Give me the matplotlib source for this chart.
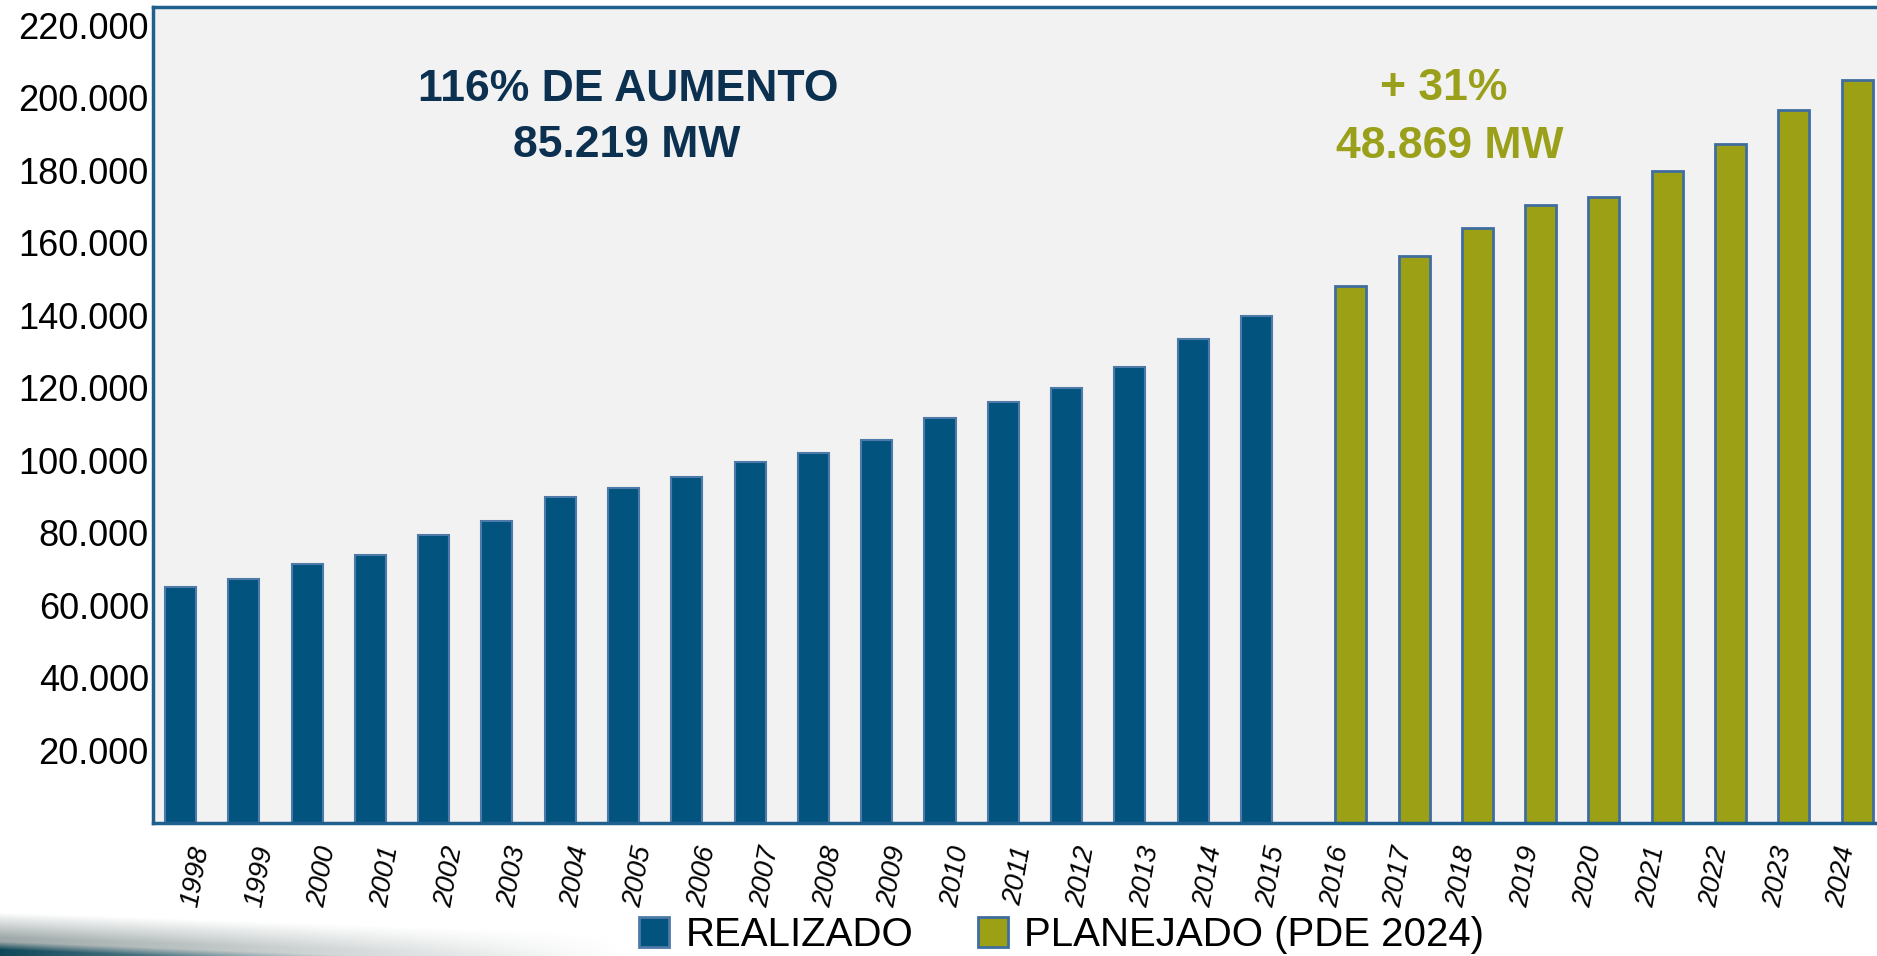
import numpy as np
import matplotlib.pyplot as plt
from matplotlib.patches import Patch

# %%
# data (MW)
years_real = [str(y) for y in range(1998, 2016)]
years_plan = [str(y) for y in range(2016, 2025)]
realizado = [65200, 67400, 71500, 74000, 79500, 83200, 89800, 92300, 95500,
             99500, 102000, 105600, 111600, 116200, 119900, 125700, 133400, 139900]
planejado = [148200, 156500, 164200, 170600, 172800, 179900, 187300, 196700, 205000]
yticks = [20000, 40000, 60000, 80000, 100000, 120000, 140000, 160000, 180000, 200000, 220000]
ytick_labels = ['20.000', '40.000', '60.000', '80.000', '100.000', '120.000',
                '140.000', '160.000', '180.000', '200.000', '220.000']
txt_real = ['116% DE AUMENTO', '85.219 MW']
txt_plan = ['+ 31%', '48.869 MW']
legend_labels = ['REALIZADO', 'PLANEJADO (PDE 2024)']

# %%
c_blue = '#02547f'
c_blue_edge = '#4d7aa8'
c_green = '#9ca014'
c_green_edge = '#3f6e9e'
c_spine = '#20608f'
c_navy = '#0c3150'
c_olive = '#9aa01a'

fig = plt.figure(figsize=(18.77, 9.56), dpi=100)
ax = fig.add_axes([153/1877, 1-823/956, (1877-153)/1877, (823-7)/956])
ax.set_facecolor('#f2f2f2')

years = years_real + years_plan
x_real = np.arange(len(years_real))
x_plan = np.arange(len(years_real), len(years))
bw = 0.49
ax.bar(x_real - bw/2, realizado, width=bw, color=c_blue,
       edgecolor=c_blue_edge, linewidth=1.5, zorder=2)
ax.bar(x_plan + bw/2, planejado, width=bw, color=c_green,
       edgecolor=c_green_edge, linewidth=2, zorder=2)

ax.set_xlim(-0.68, 26.56)
ax.set_ylim(0, 225100)
ax.set_yticks(yticks)
ax.set_yticklabels(ytick_labels, fontsize=26, family='Liberation Sans')
ax.set_xticks(np.arange(len(years)))
ax.set_xticklabels(years, rotation=80, fontsize=20, style='italic',
                   family='Liberation Sans')
ax.tick_params(axis='y', length=0, pad=3)
ax.tick_params(axis='x', length=0, pad=15)
for s in ['left', 'bottom', 'top']:
    ax.spines[s].set_color(c_spine)
    ax.spines[s].set_linewidth(2.5)
ax.spines['right'].set_visible(False)

# annotations
fig.text(0.3346, 0.9061, txt_real[0], ha='center', va='center', fontsize=32,
         fontweight='bold', color=c_navy, family='Liberation Sans')
fig.text(0.3340, 0.8476, txt_real[1], ha='center', va='center', fontsize=32,
         fontweight='bold', color=c_navy, family='Liberation Sans')
fig.text(0.7693, 0.9072, txt_plan[0], ha='center', va='center', fontsize=32,
         fontweight='bold', color=c_olive, family='Liberation Sans')
fig.text(0.7725, 0.8465, txt_plan[1], ha='center', va='center', fontsize=32,
         fontweight='bold', color=c_olive, family='Liberation Sans')

# legend
handles = [Patch(facecolor=c_blue, edgecolor=c_blue_edge, linewidth=2),
           Patch(facecolor=c_green, edgecolor=c_green_edge, linewidth=2)]
fig.legend(handles, legend_labels, loc='center', bbox_to_anchor=(0.5655, 0.022),
           ncol=2, frameon=False, handlelength=0.75, handleheight=0.75,
           handletextpad=0.4, columnspacing=1.6, borderpad=0,
           prop={'family': 'Liberation Sans', 'size': 29})

# decorative swoosh at bottom left
H, W = 60, 1877
yy, xx = np.mgrid[0:H, 0:W]
yb = (H - 1 - yy).astype(float)  # px from bottom
top = 43 - xx * 0.035
fade = np.clip(1 - xx / 620.0, 0, 1)
vert = np.clip((top - yb) / 25.0, 0, 1)
alpha = fade * vert
dark = np.clip((14 - xx * 0.04 - yb) / 8.0, 0, 1)
gray = np.array([0.62, 0.66, 0.66])
teal = np.array([0.06, 0.28, 0.35])
rgb = gray[None, None, :] * (1 - dark[..., None]) + teal[None, None, :] * dark[..., None]
img = np.dstack([rgb, alpha])
bax = fig.add_axes([0, 0, 1, H/956], zorder=-1)
bax.imshow(img, aspect='auto', extent=[0, W, 0, H])
bax.axis('off')

plt.savefig('out.png', dpi=100)
plt.close()
